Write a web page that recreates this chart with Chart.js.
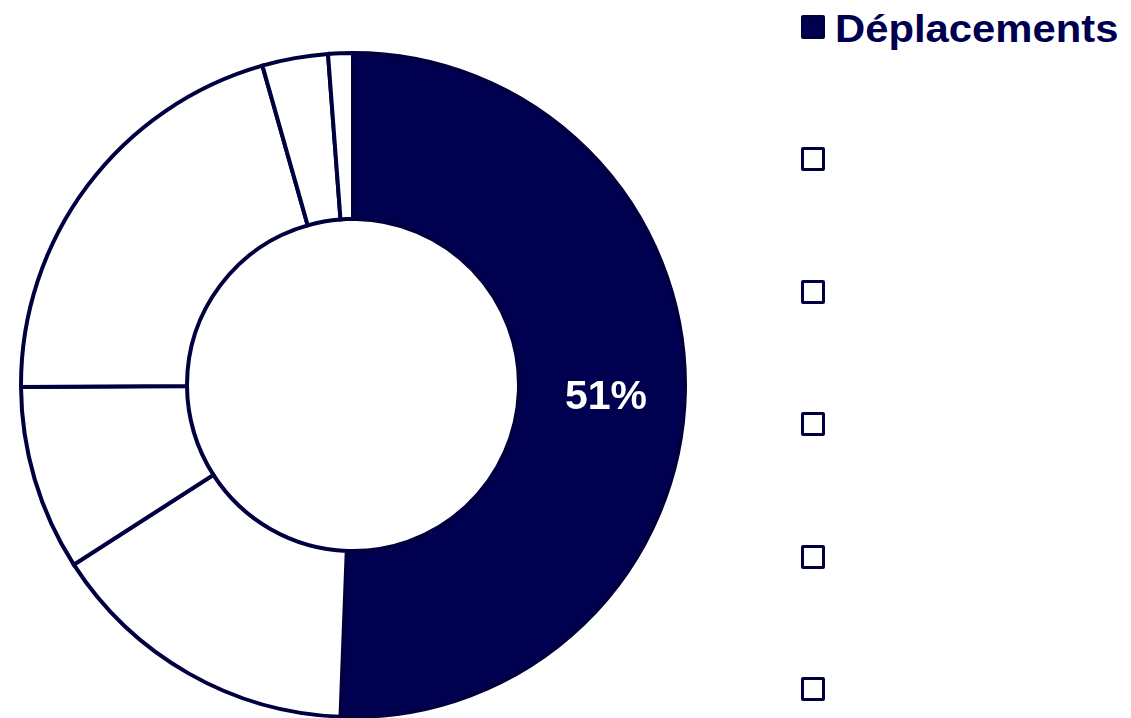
<!DOCTYPE html>
<html>
<head>
<meta charset="utf-8">
<script src="https://cdn.jsdelivr.net/npm/chart.js@4"></script>
<style>
    html, body { margin: 0; padding: 0; background: #fff; overflow: hidden; width: 1131px; height: 718px; }
    #wrap { position: absolute; left: 19px; top: 51px; width: 668px; height: 668px; }
    #legend { position: absolute; left: 801px; top: 0; }
    .item { position: absolute; left: 0; height: 40px; white-space: nowrap; font-family: "Liberation Sans", Arial, sans-serif; font-weight: bold; font-size: 38px; color: #000050; }
    .box { position: absolute; left: 0; top: 0; width: 18px; height: 18px; border: 3.5px solid #000040; border-radius: 2px; }
    .txt { position: absolute; left: 34px; top: -7px; display: inline-block; transform-origin: left center; transform: scaleX(1.1); }
</style>
</head>
<body>
<div id="wrap"><canvas id="donutChart"></canvas></div>
<div id="legend"></div>
<script>
    // 資料
    const categories = ["Déplacements", "", "", "", "", ""];
    const shares = [50.6, 15.3, 9.0, 20.7, 3.2, 1.2];
    const fillColors = ["#000050", "#ffffff", "#ffffff", "#ffffff", "#ffffff", "#ffffff"];
    const shownLabels = ["51%", "", "", "", "", ""];

    // 圖例 (每列間距約 132px)
    const legendBox = document.getElementById('legend');
    categories.forEach((name, i) => {
        const item = document.createElement('div');
        item.className = 'item';
        item.style.top = (15 + i * 132.4) + 'px';
        item.innerHTML = `<div class="box" style="background:${fillColors[i]}"></div><span class="txt">${name}</span>`;
        legendBox.appendChild(item);
    });

    // 在扇形中間寫百分比
    const sliceLabels = {
        id: 'sliceLabels',
        afterDatasetsDraw(chart) {
            const ctx = chart.ctx;
            chart.getDatasetMeta(0).data.forEach((arc, i) => {
                if (!shownLabels[i]) return;
                const pos = arc.tooltipPosition();
                ctx.save();
                ctx.fillStyle = '#ffffff';
                ctx.font = 'bold 41px "Liberation Sans", Arial, sans-serif';
                ctx.textAlign = 'center';
                ctx.textBaseline = 'middle';
                ctx.fillText(shownLabels[i], pos.x + 4, pos.y + 8);
                ctx.restore();
            });
        }
    };

    new Chart(document.getElementById('donutChart'), {
        type: 'doughnut',
        data: {
            labels: categories,
            datasets: [{
                data: shares,
                backgroundColor: fillColors,
                borderColor: '#000040',
                borderWidth: 4,
                borderJoinStyle: 'miter'
            }]
        },
        options: {
            responsive: true,
            maintainAspectRatio: false,
            animation: false,
            cutout: '50%',
            layout: { padding: 0 },
            plugins: {
                legend: { display: false },
                tooltip: { enabled: false }
            }
        },
        plugins: [sliceLabels]
    });
</script>
</body>
</html>
